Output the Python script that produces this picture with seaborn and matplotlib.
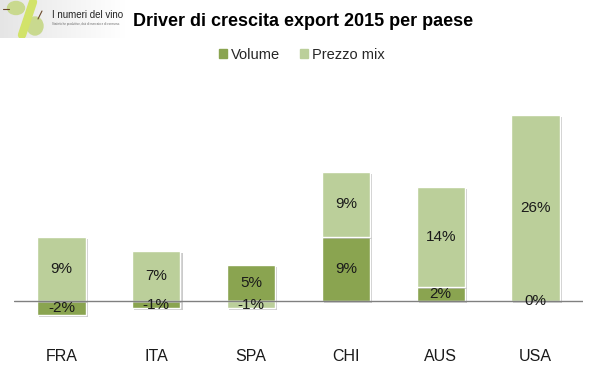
import numpy as np
import matplotlib
matplotlib.use('Agg')
import matplotlib.pyplot as plt
import matplotlib.patheffects as pe
from matplotlib.patches import Rectangle, Ellipse
import seaborn as sns

# ==================== dati ====================
paesi = ['FRA', 'ITA', 'SPA', 'CHI', 'AUS', 'USA']
volume = [-2, -1, 5, 9, 2, 0]
prezzo_mix = [9, 7, -1, 9, 14, 26]

col_volume = '#8AA450'
col_prezzo = '#BBCF9A'

sns.set_theme(style='white')
plt.rcParams['font.family'] = ['Liberation Sans', 'DejaVu Sans']

# stack: stesso segno -> sopra, segno opposto -> parte da zero
vol = np.array(volume, dtype=float)
prz = np.array(prezzo_mix, dtype=float)
base_prz = np.where(np.sign(vol) == np.sign(prz), vol, 0)

fig = plt.figure(figsize=(5.98, 3.74), dpi=100)
ax = fig.add_axes([14 / 598, 0.1377, 569 / 598, 0.5928])

shadow = [pe.SimplePatchShadow(offset=(1.5, -1.5), shadow_rgbFace='#999999', alpha=0.5), pe.Normal()]

sns.barplot(x=paesi, y=volume, color=col_volume, width=0.51, saturation=1,
            edgecolor='white', linewidth=1, ax=ax)
sns.barplot(x=paesi, y=prezzo_mix, bottom=base_prz, color=col_prezzo, width=0.51,
            saturation=1, edgecolor='white', linewidth=1, ax=ax)
for p in ax.patches:
    p.set_path_effects(shadow)

ax.axhline(0, color='#808080', lw=1, zorder=5)

# etichette
for i in range(len(paesi)):
    ax.text(i, vol[i] / 2, f'{int(vol[i])}%', ha='center', va='center', fontsize=11, color='#1a1a1a', zorder=6)
    ax.text(i, base_prz[i] + prz[i] / 2, f'{int(prz[i])}%', ha='center', va='center', fontsize=11,
            color='#1a1a1a', zorder=6)

ax.set_xlim(-0.5, 5.5)
ax.set_ylim(-3, 28)
ax.set_yticks([])
ax.set_xticks(range(len(paesi)))
ax.set_xticklabels(paesi, fontsize=11.5, color='#1a1a1a')
ax.tick_params(axis='x', length=0, pad=19)
sns.despine(ax=ax, left=True, bottom=True)

# legenda
h1 = Rectangle((0, 0), 1, 1, color=col_volume)
h2 = Rectangle((0, 0), 1, 1, color=col_prezzo)
fig.legend([h1, h2], ['Volume', 'Prezzo mix'], loc='center', bbox_to_anchor=(0.505, 0.853), ncol=2,
           frameon=False, fontsize=10.5, handlelength=0.55, handleheight=0.55, handletextpad=0.25,
           columnspacing=1.4)

# titolo
fig.text(133 / 598, 1 - 22 / 374, 'Driver di crescita export 2015 per paese', fontsize=13,
         fontweight='bold', ha='left', va='center', color='black')

# logo
lax = fig.add_axes([0, 1 - 38 / 374, 126 / 598, 38 / 374])
lax.set_xlim(0, 126)
lax.set_ylim(38, 0)
lax.axis('off')
grad = np.linspace(0.9, 1.0, 60).reshape(1, -1)
lax.imshow(np.dstack([grad, grad, grad]), extent=(0, 126, 38, 0), aspect='auto')
lax.plot([33, 22], [2, 35], color='#D2E36A', lw=6, solid_capstyle='round')
lax.add_patch(Ellipse((16, 8), 17, 13, color='#C9D98F'))
lax.plot([3, 9], [9, 9], color='#6B4A2A', lw=0.8)
lax.add_patch(Ellipse((35, 26), 16, 18, color='#C9D98F'))
lax.plot([38, 42], [19, 11], color='#6B4A2A', lw=0.8)
lax.text(52, 15, 'I numeri del vino', fontsize=7, color='#222222', va='center', ha='left')
lax.text(52, 24, 'Statistiche produttive, dati di mercato e di consumo.', fontsize=2.1,
         color='#666666', va='center', ha='left')

fig.savefig('out.png', dpi=100)
